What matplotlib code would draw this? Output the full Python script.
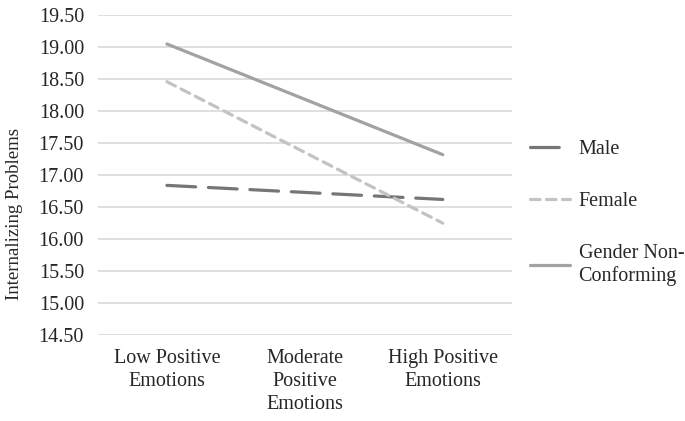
import matplotlib
matplotlib.use("Agg")
import matplotlib.pyplot as plt

plt.rcParams['font.family'] = ['Liberation Serif', 'DejaVu Serif']

# categories and values
categories = ["Low Positive\nEmotions", "Moderate\nPositive\nEmotions", "High Positive\nEmotions"]
ends = [0, 2]  # lines join low and high only
male = [16.84, 16.62]
female = [18.46, 16.25]
gender_nc = [19.05, 17.32]
yticks = [14.5, 15.0, 15.5, 16.0, 16.5, 17.0, 17.5, 18.0, 18.5, 19.0, 19.5]

fs = 14.5
txt = '#262626'
fig = plt.figure(figsize=(6.85, 4.21), dpi=100)
ax = fig.add_axes([0.143, 0.204, 0.604, 0.760])

ax.plot(ends, male, color='#767676', lw=2.3, dashes=(9, 4), solid_capstyle='round',
        dash_capstyle='round', label='Male')
ax.plot(ends, female, color='#c3c3c3', lw=2.3, dashes=(3, 2),
        dash_capstyle='round', label='Female')
ax.plot(ends, gender_nc, color='#a2a2a2', lw=2.3, solid_capstyle='round',
        label='Gender Non-\nConforming')

ax.set_xlim(-0.5, 2.5)
ax.set_ylim(14.5, 19.5)
ax.set_yticks(yticks)
ax.set_yticklabels([f"{v:.2f}" for v in yticks])
ax.set_xticks(range(len(categories)))
ax.set_xticklabels(categories, linespacing=1.3)
ax.tick_params(axis='both', length=0, labelsize=fs, colors=txt)
ax.tick_params(axis='x', pad=10)
ax.tick_params(axis='y', pad=10)
ax.grid(axis='y', color='#d9d9d9', lw=1.2)
ax.set_axisbelow(True)
for s in ax.spines.values():
    s.set_visible(False)
ax.set_ylabel("Internalizing Problems", fontsize=13.5, color=txt)
ax.yaxis.set_label_coords(-0.18, 0.38)

ax.legend(loc='upper left', bbox_to_anchor=(0.774, 0.668), bbox_transform=fig.transFigure,
          frameon=False, fontsize=fs, handlelength=2.0, handletextpad=0.4,
          labelspacing=1.65, labelcolor=txt, borderpad=0, borderaxespad=0)

fig.savefig("out.png", dpi=100)
